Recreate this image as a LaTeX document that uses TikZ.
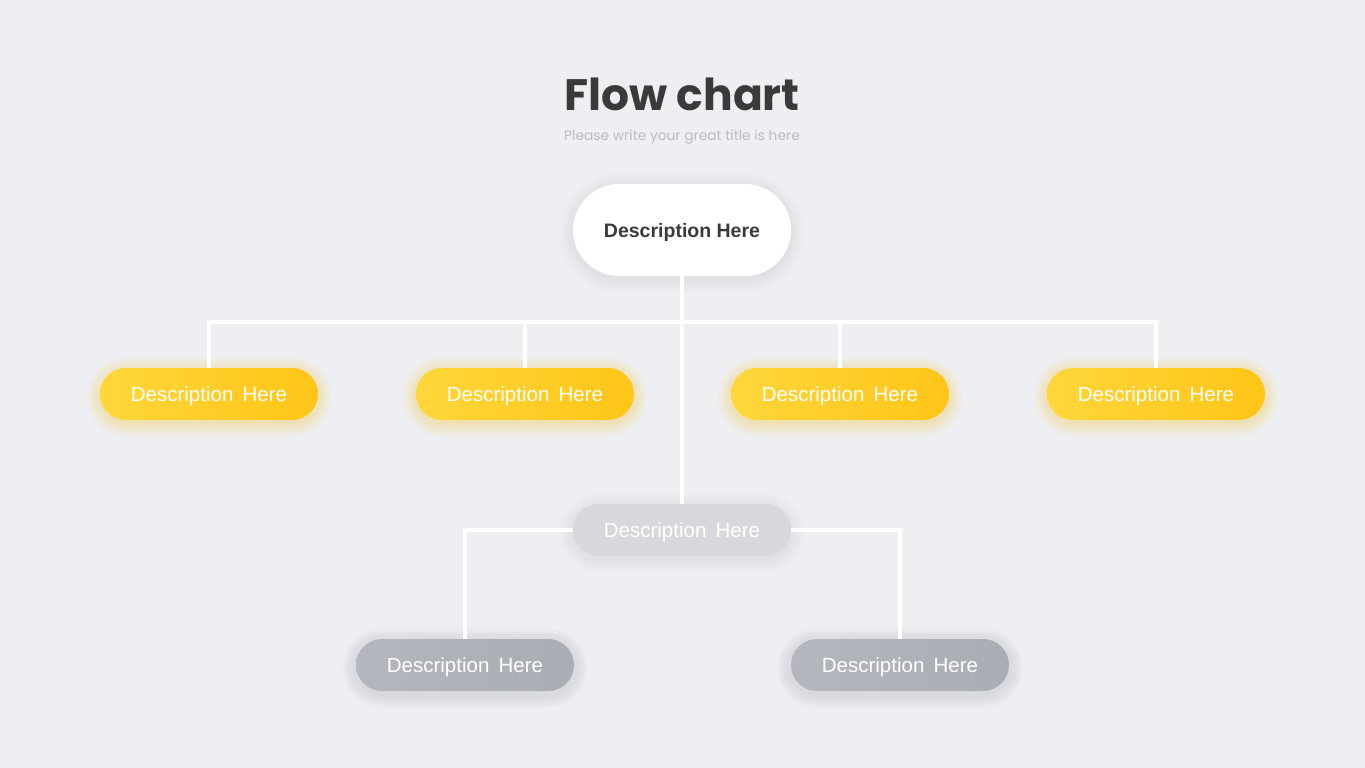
\documentclass[tikz,border=0pt]{standalone}
\usepackage{fontspec}
\setmainfont{Liberation Sans}
\newfontfamily\titlefont{Poppins}
\definecolor{bg}{HTML}{EEEFF3}
\definecolor{titlec}{HTML}{3A3A3A}
\definecolor{subc}{HTML}{BBBCC2}
\definecolor{yelA}{HTML}{FFD63A}
\definecolor{yelB}{HTML}{FFC518}
\definecolor{midg}{HTML}{D6D8DC}
\definecolor{lowA}{HTML}{B4B7BD}
\definecolor{lowB}{HTML}{A9ADB4}
\definecolor{darktxt}{HTML}{3A3A3A}
\definecolor{shadc}{HTML}{A0A2A8}
\tikzset{
  pill/.style={minimum width=218pt, minimum height=52pt, rounded corners=26pt,
    font=\fontsize{20.5}{21}\selectfont, text=white, inner sep=0pt, text depth=0pt,
    execute at begin node={\spaceskip=0.45em}},
  toppill/.style={minimum width=218pt, minimum height=92pt, rounded corners=46pt,
    fill=white, text=darktxt, font=\fontsize{19.5}{20}\selectfont\bfseries, inner sep=0pt, text depth=0pt},
  yelpill/.style={pill, left color=yelA, right color=yelB},
  midpill/.style={pill, fill=midg},
  lowpill/.style={pill, left color=lowA, right color=lowB},
  conn/.style={draw=white, line width=4pt}
}
% glow: #1 center x, #2 center y, #3 half width, #4 half height, #5 color, #6 opacity per layer
\newcommand{\glowpill}[6]{%
  \foreach \r in {1,2,...,14}{%
    \fill[#5, opacity=#6, rounded corners={#4+\r}]
      ({#1-#3-\r},{#2-#4-\r+3}) rectangle ({#1+#3+\r},{#2+#4+\r+3});
  }%
}
\begin{document}
\begin{tikzpicture}[x=1pt,y=-1pt]
\fill[bg] (0,0) rectangle (1365,768);
\useasboundingbox (0,0) rectangle (1365,768);
\node[font=\titlefont\fontsize{44}{48}\selectfont\bfseries, text=titlec] (title) at (682,94) {Flow chart};
\node[font=\titlefont\fontsize{13.8}{16}\selectfont, text=subc] (sub) at (682,137) {Please write your great title is here};
% soft shadows
\glowpill{682}{230}{109}{46}{shadc}{0.01}
\glowpill{209}{394}{109}{26}{yelB}{0.02}
\glowpill{525}{394}{109}{26}{yelB}{0.02}
\glowpill{840}{394}{109}{26}{yelB}{0.02}
\glowpill{1156}{394}{109}{26}{yelB}{0.02}
\glowpill{682}{530}{109}{26}{shadc}{0.008}
\glowpill{465}{665}{109}{26}{shadc}{0.014}
\glowpill{900}{665}{109}{26}{shadc}{0.014}
\coordinate (hl) at (209,322);
\node[toppill] (top) at (682,230) {Description Here};
\node[yelpill] (y1) at (209,394) {Description Here};
\node[yelpill] (y2) at (525,394) {Description Here};
\node[yelpill] (y3) at (840,394) {Description Here};
\node[yelpill] (y4) at (1156,394) {Description Here};
\node[midpill] (mid) at (682,530) {Description Here};
\node[lowpill] (l1) at (465,665) {Description Here};
\node[lowpill] (l2) at (900,665) {Description Here};
\draw[conn] (top.south) -- (mid.north);
\draw[conn] (y1.north) -- (y1.north |- hl) -- (y4.north |- hl) -- (y4.north);
\draw[conn] (y2.north) -- (y2.north |- hl);
\draw[conn] (y3.north) -- (y3.north |- hl);
\draw[conn] (mid.west) -- (mid.west -| l1.north) -- (l1.north);
\draw[conn] (mid.east) -- (mid.east -| l2.north) -- (l2.north);
\end{tikzpicture}
\end{document}
